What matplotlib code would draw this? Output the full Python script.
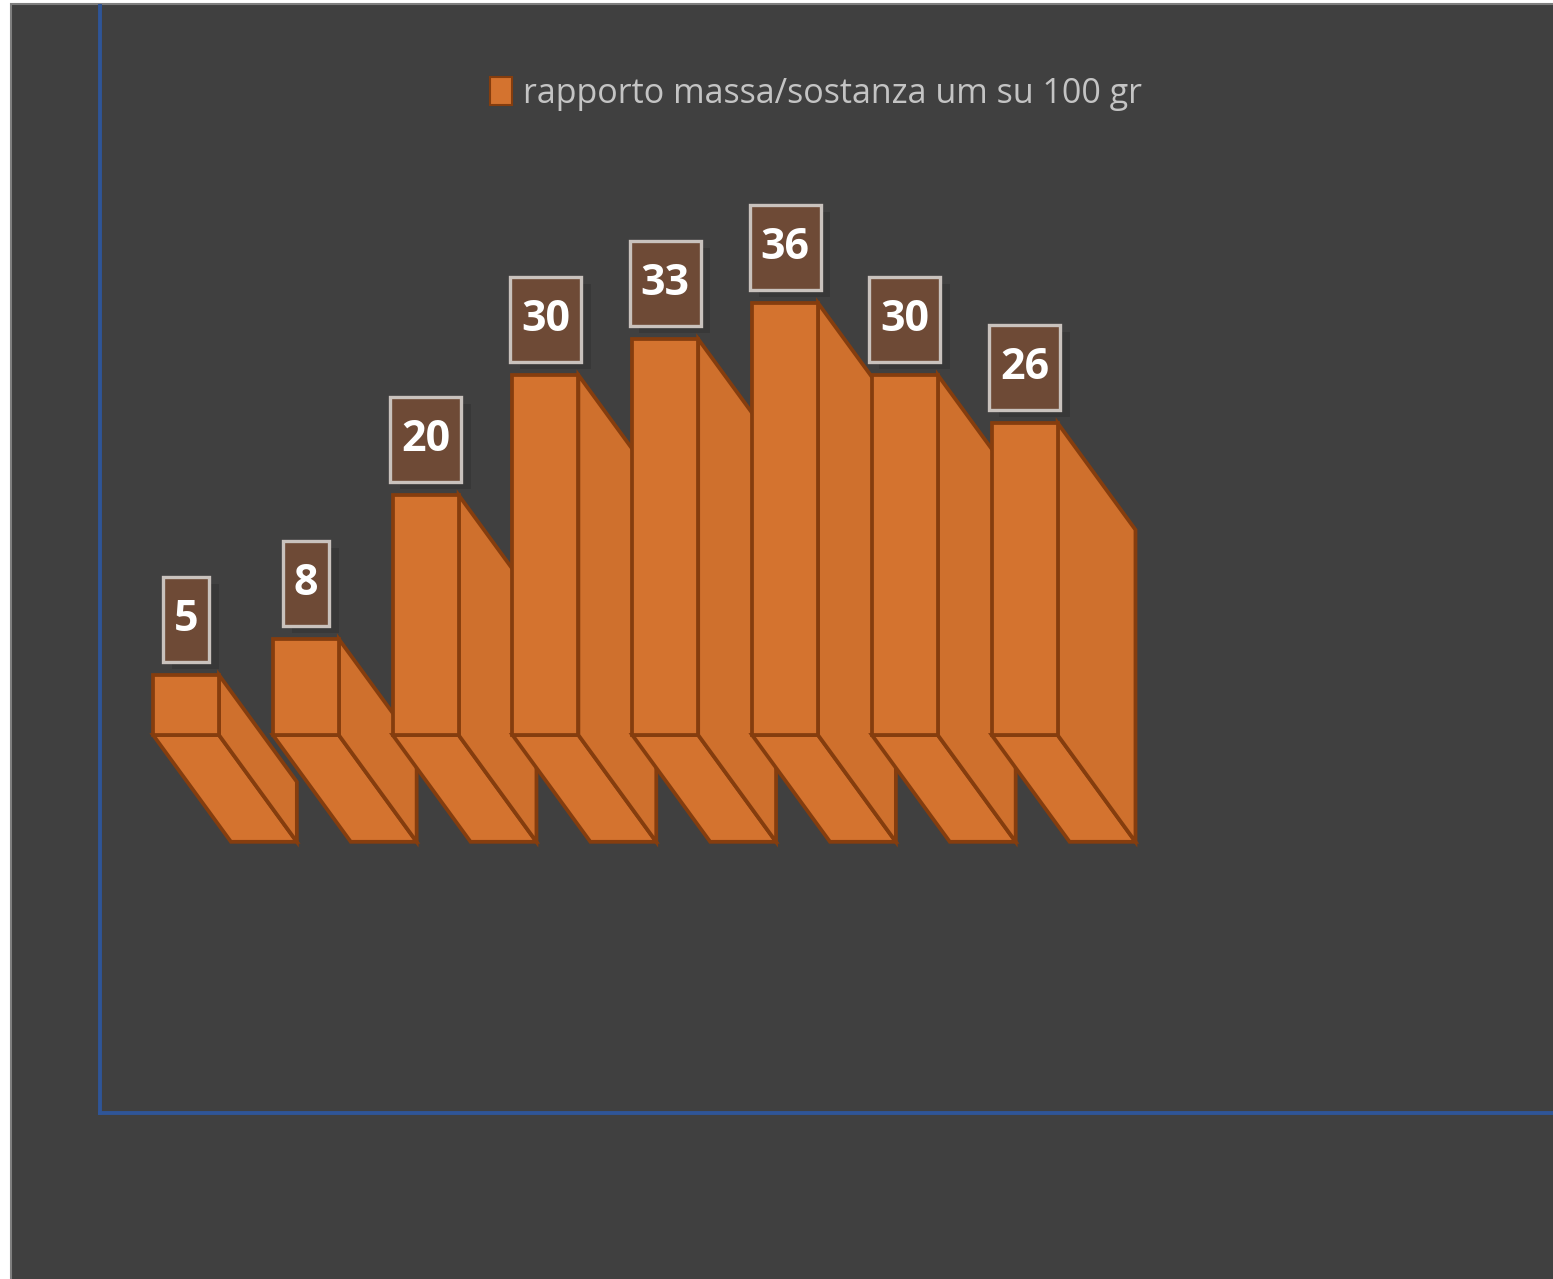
import matplotlib.pyplot as plt
import matplotlib.patheffects as pe
from matplotlib.patches import Polygon, Rectangle, Patch
from matplotlib.path import Path

# data
categories = ['1', '2', '3', '4', '5', '6', '7', '8']
values = [5, 8, 20, 30, 33, 36, 30, 26]
series_name = 'rapporto massa/sostanza um su 100 gr'

orange = '#D4732F'
orange_side = '#CF702D'
edge = '#853D0E'
bg = '#404040'
blue = '#2F5597'

W, H = 1553, 1279
fig = plt.figure(figsize=(W / 100, H / 100), dpi=100, facecolor='white')

# dark panel with grey frame
fig.patches.append(Rectangle((11 / W, -0.01), 1.02, 1 - 4 / H + 0.01,
                             transform=fig.transFigure, facecolor=bg,
                             edgecolor='#7F7F7F', linewidth=1.5, zorder=-5))

ax = fig.add_axes([100 / W, 1 - 1113 / H, 1 - 100 / W, (1113 - 6) / H])
ax.set_zorder(2)
ax.set_facecolor('none')
ax.set_xlim(-0.718, 11.41)
ax.set_ylim(-31.5, 60.75)
for s in ['top', 'right']:
    ax.spines[s].set_visible(False)
for s in ['left', 'bottom']:
    ax.spines[s].set_color(blue)
    ax.spines[s].set_linewidth(2.8)
ax.set_xticks([])
ax.set_yticks([])


def label_box(x0, y0, width, height, mutation_size):
    # tall box: more padding top/bottom than at the sides
    px, py = 11, 21
    x1, y1 = x0 - px, y0 - py
    x2, y2 = x0 + width + px, y0 + height + py
    return Path([(x1, y1), (x2, y1), (x2, y2), (x1, y2), (x1, y1)], closed=True)


half = 0.275   # half width of the front face
dx, dy = 0.65, -8.9   # oblique depth offset

for i, v in enumerate(values):
    xl, xr = i - half, i + half
    bottom = [(xl, 0), (xr, 0), (xr + dx, dy), (xl + dx, dy)]
    side = [(xr, v), (xr + dx, v + dy), (xr + dx, dy), (xr, 0)]
    front = [(xl, 0), (xr, 0), (xr, v), (xl, v)]
    for pts, c in [(bottom, orange), (side, orange_side), (front, orange)]:
        ax.add_patch(Polygon(pts, closed=True, facecolor=c, edgecolor=edge,
                             linewidth=2.7, joinstyle='miter', zorder=2 + i * 0.01))
    ann = ax.annotate(str(v), (i, v), xytext=(0, 40), textcoords='offset points',
                      ha='center', va='center', fontsize=31, fontweight='bold',
                      family='Open Sans', color='white', zorder=5,
                      bbox=dict(boxstyle=label_box, facecolor='#6E4A36',
                                edgecolor='#C9C2BD', linewidth=2.4))
    ann.get_bbox_patch().set_path_effects([
        pe.SimplePatchShadow(offset=(7, -5), shadow_rgbFace='black', alpha=0.12),
        pe.Normal()])

handle = Patch(facecolor=orange, edgecolor=edge, linewidth=1.5)
fig.legend([handle], [series_name], loc='center', bbox_to_anchor=(816 / W, 1 - 94 / H),
           frameon=False, handlelength=0.65, handleheight=0.9, handletextpad=0.3,
           prop={'family': 'Open Sans', 'size': 24.5}, labelcolor='#C4C4C4')

fig.savefig('out.png', dpi=100, facecolor='white')
